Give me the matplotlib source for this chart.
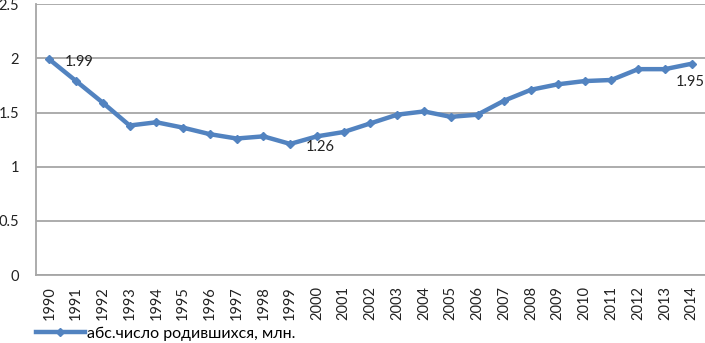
import numpy as np
import matplotlib.pyplot as plt

years = [str(y) for y in range(1990, 2015)]
births = [1.99, 1.79, 1.59, 1.38, 1.41, 1.36, 1.30, 1.26, 1.28, 1.21,
          1.28, 1.32, 1.40, 1.48, 1.51, 1.46, 1.48, 1.61, 1.71, 1.76,
          1.79, 1.80, 1.90, 1.90, 1.95]
series_name = 'абс.число родившихся, млн.'
# (index, text, offset in points)
labels = [(0, '1.99', (11, -2)), (9, '1.26', (11, -2)), (24, '1.95', (-11.5, -13))]

plt.rcParams['font.family'] = ['Lato', 'DejaVu Sans']
color = '#5283C0'

fig = plt.figure(figsize=(7.05, 3.43), dpi=100)
ax = fig.add_axes([0.051, 0.198, 0.949, 0.79])
x = np.arange(len(years))
ax.plot(x, births, color=color, lw=3.2, marker='D', ms=4.5, label=series_name)

for i, t, off in labels:
    ax.annotate(t, (x[i], births[i]), xytext=off, textcoords='offset points',
                fontsize=10.5, color='#222222', va='center', ha='left', annotation_clip=False)

ax.set_xlim(-0.5, len(years) - 0.5)
ax.set_ylim(0, 2.5)
ax.set_yticks(np.arange(0, 2.51, 0.5))
ax.set_yticklabels(['0', '0.5', '1', '1.5', '2', '2.5'])
ax.set_xticks(x)
ax.set_xticklabels(years, rotation=90)
ax.tick_params(length=0, labelsize=10.5, colors='#222222')
ax.tick_params(axis='y', pad=12)
ax.tick_params(axis='x', pad=8)
ax.grid(axis='y', color='#A6A6A6', lw=1.3)
ax.set_axisbelow(True)
for s in ['top', 'right']:
    ax.spines[s].set_visible(False)
for s in ['left', 'bottom']:
    ax.spines[s].set_color('#A6A6A6')
    ax.spines[s].set_linewidth(1.3)

fig.legend(loc='lower left', bbox_to_anchor=(0.03, -0.035), frameon=False,
           fontsize=11.5, handlelength=3.1, handletextpad=0.1)

fig.savefig('out.png', dpi=100)
